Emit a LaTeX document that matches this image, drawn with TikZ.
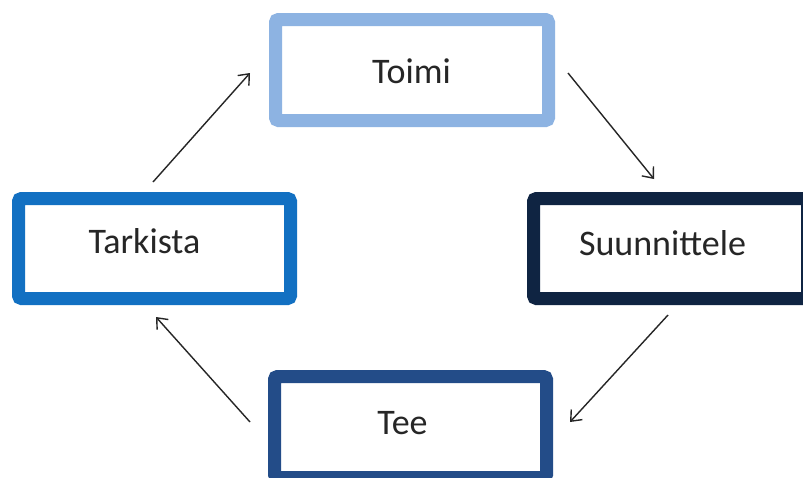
\documentclass[tikz,border=0pt]{standalone}
\usepackage{fontspec}
\setmainfont{Carlito}
\usetikzlibrary{arrows.meta}
\definecolor{cToimi}{HTML}{8DB3E2}
\definecolor{cSuun}{HTML}{0F2442}
\definecolor{cTee}{HTML}{234C88}
\definecolor{cTark}{HTML}{1270C2}
\definecolor{txt}{HTML}{262626}
\tikzset{
  stagebox/.style={draw=#1, line width=13pt, rounded corners=3pt, fill=white, inner sep=0pt, minimum width=273pt, minimum height=101pt},
  stagetext/.style={anchor=base, text=txt, font=\fontsize{36}{40}\selectfont, inner sep=0pt},
  flow/.style={draw=black!85, line width=1.4pt, -{Straight Barb[length=9pt, width=15pt, line width=1.4pt]}}
}
\begin{document}
\begin{tikzpicture}[x=1pt, y=-1pt]
\useasboundingbox (0,0) rectangle (803,477);
\clip (0,0) rectangle (803,477);
\fill[white] (0,0) rectangle (803,477);
\node[stagebox=cToimi, minimum width=273pt, minimum height=101pt] (toimi) at (412,70) {};
\node[stagebox=cTark, minimum width=272pt, minimum height=100pt] (tark) at (154.5,248.5) {};
\node[stagebox=cSuun, minimum width=274pt, minimum height=100pt] (suun) at (670.5,248.5) {};
\node[stagebox=cTee, minimum width=272pt, minimum height=101pt] (tee) at (410.5,427) {};
\node[stagetext] (toimiT) at (411.5,83) {Toimi};
\node[stagetext] (tarkT) at (144.5,253) {Tarkista};
\node[stagetext] (suunT) at (662.5,255) {Suunnittele};
\node[stagetext] (teeT) at (402.5,434) {Tee};
\coordinate (a1s) at (153,182);
\coordinate (a1e) at (250,73);
\coordinate (a2s) at (568,73);
\coordinate (a2e) at (654,179);
\coordinate (a3s) at (668,315);
\coordinate (a3e) at (570,422);
\coordinate (a4s) at (250,422);
\coordinate (a4e) at (156,317);
\draw[flow] (a1s) -- (a1e);
\draw[flow] (a2s) -- (a2e);
\draw[flow] (a3s) -- (a3e);
\draw[flow] (a4s) -- (a4e);
\end{tikzpicture}
\end{document}
